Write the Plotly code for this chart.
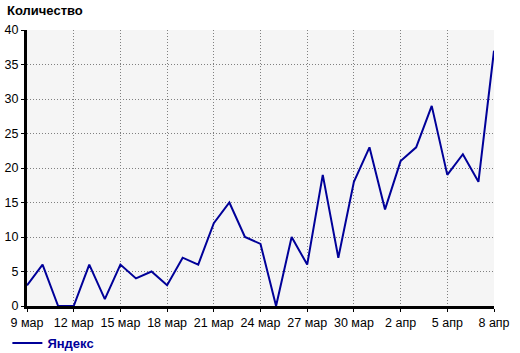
import plotly.graph_objects as go

dates = ["9 мар", "10 мар", "11 мар", "12 мар", "13 мар", "14 мар", "15 мар", "16 мар",
         "17 мар", "18 мар", "19 мар", "20 мар", "21 мар", "22 мар", "23 мар", "24 мар",
         "25 мар", "26 мар", "27 мар", "28 мар", "29 мар", "30 мар", "31 мар", "1 апр",
         "2 апр", "3 апр", "4 апр", "5 апр", "6 апр", "7 апр", "8 апр"]
yandex = [3, 6, 0, 0, 6, 1, 6, 4, 5, 3, 7, 6, 12, 15, 10, 9, 0, 10, 6, 19, 7, 18, 23, 14,
          21, 23, 29, 19, 22, 18, 37]
x_ticks = dates[::3]
y_ticks = [0, 5, 10, 15, 20, 25, 30, 35, 40]

font_family = "Liberation Sans, Arial, sans-serif"

fig = go.Figure()
fig.add_trace(go.Scatter(
    x=dates, y=yandex, mode="lines", name="Яндекс",
    line=dict(color="#000099", width=2),
))

fig.update_layout(
    width=520, height=353,
    margin=dict(l=27, r=26, t=30, b=47, autoexpand=False),
    paper_bgcolor="white",
    plot_bgcolor="#f5f5f5",
    font=dict(family=font_family, size=12.5, color="black"),
    showlegend=True,
    legend=dict(
        orientation="h", x=-0.042, xanchor="left", y=-0.08, yanchor="top",
        font=dict(family=font_family, size=13, color="#000099", weight="bold"),
        bgcolor="rgba(0,0,0,0)",
    ),
    annotations=[dict(
        text="<b>Количество</b>", xref="paper", yref="paper",
        x=-0.048, xanchor="left", y=1, yanchor="bottom", yshift=10, showarrow=False,
        font=dict(family=font_family, size=13, color="black"),
    )],
)

grid = dict(showgrid=True, gridcolor="#808080", griddash="1px,2px", gridwidth=1,
            showline=True, linecolor="black", linewidth=3,
            ticks="outside", ticklen=3, tickcolor="black", zeroline=False)

fig.update_xaxes(type="category", range=[0, 30],
                 tickmode="array", tickvals=x_ticks, ticktext=x_ticks, **grid)
fig.update_yaxes(range=[0, 40], tickmode="array", tickvals=y_ticks, **grid)

fig.write_html("out.html")
